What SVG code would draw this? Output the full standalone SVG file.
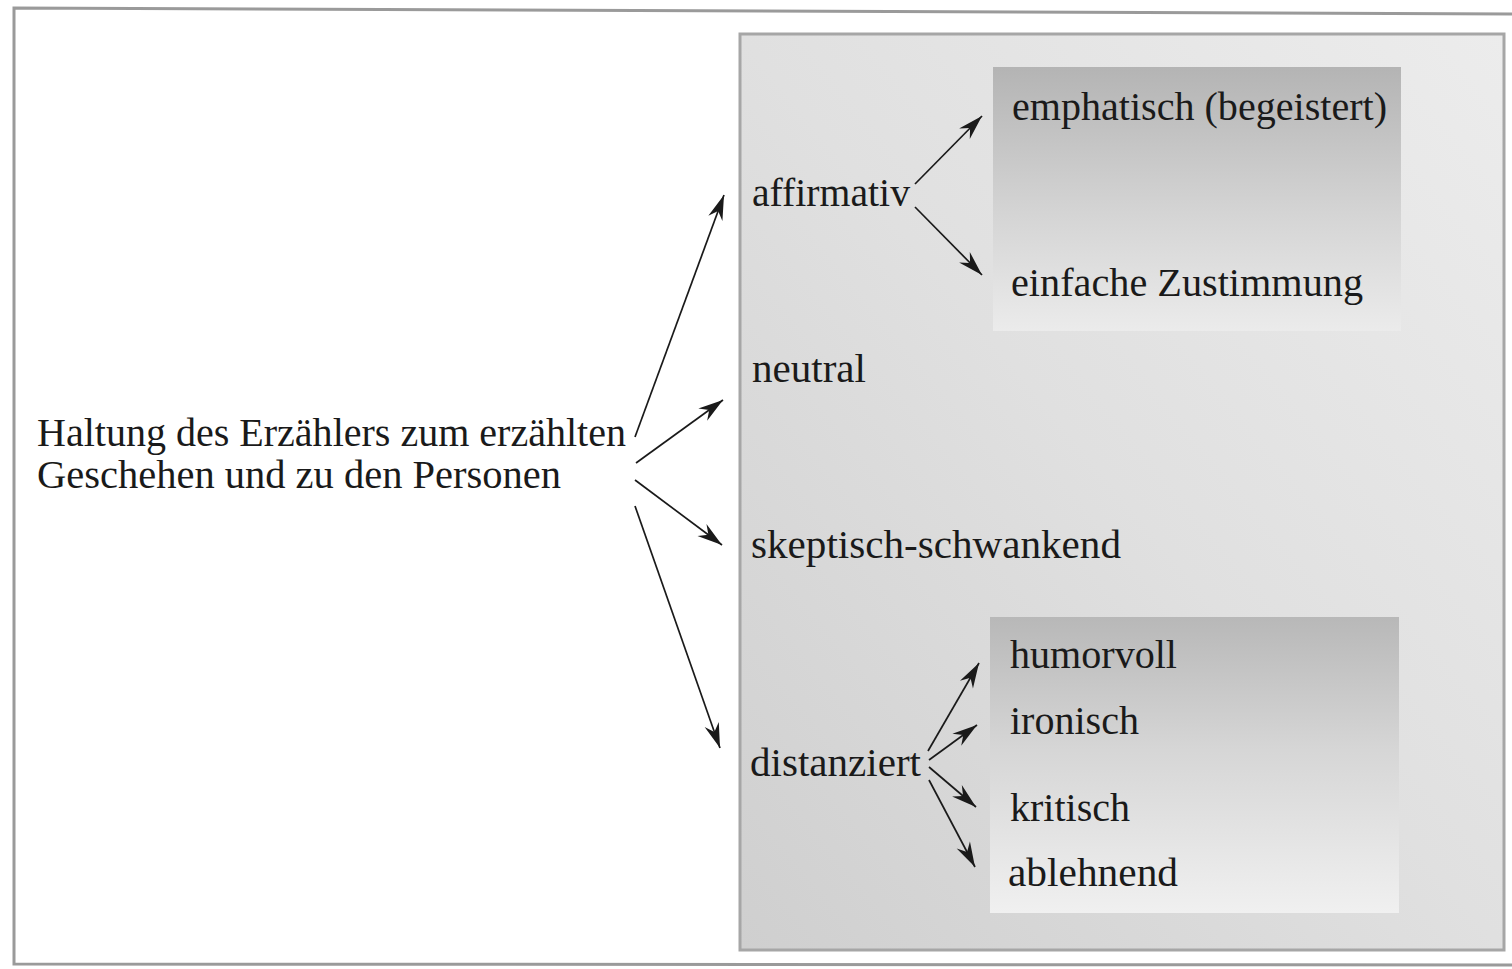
<svg xmlns="http://www.w3.org/2000/svg" width="1512" height="969" viewBox="0 0 1512 969">
<style>
.t{font-family:"Liberation Serif","Times New Roman",serif;font-size:40px;fill:#1a1a1a}
.c line{stroke:#1a1a1a;stroke-width:1.7;fill:none}
</style>
<defs>
<marker id="ah" viewBox="-28 -9 30 18" refX="0" refY="0" markerWidth="30" markerHeight="18" markerUnits="userSpaceOnUse" orient="auto">
<path d="M0,0 L-25,-7.5 L-17,0 L-25,7.5 Z" fill="#1a1a1a"/>
</marker>
<linearGradient id="panelG" x1="1" y1="0" x2="0" y2="1">
<stop offset="0" stop-color="#ececec"/>
<stop offset="0.5" stop-color="#e0e0e0"/>
<stop offset="1" stop-color="#cfcfcf"/>
</linearGradient>
<linearGradient id="boxA" x1="0" y1="0" x2="0" y2="1">
<stop offset="0" stop-color="#b4b4b4"/>
<stop offset="0.55" stop-color="#d4d4d4"/>
<stop offset="1" stop-color="#ebebeb"/>
</linearGradient>
<linearGradient id="boxB" x1="0" y1="0" x2="0" y2="1">
<stop offset="0" stop-color="#b8b8b8"/>
<stop offset="0.45" stop-color="#d6d6d6"/>
<stop offset="1" stop-color="#f0f0f0"/>
</linearGradient>
</defs>
<rect x="0" y="0" width="1512" height="969" fill="#ffffff"/>
<path d="M1512,14 L14,8 L14,964 L1512,965" fill="none" stroke="#9a9a9a" stroke-width="3"/>
<g id="panel">
<rect x="740" y="34" width="764" height="916" fill="url(#panelG)" stroke="#a6a6a6" stroke-width="3"/>
<rect x="993" y="67" width="408" height="264" fill="url(#boxA)"/>
<rect x="990" y="617" width="409" height="296" fill="url(#boxB)"/>
</g>
<g id="root"><text class="t" x="37" y="446" textLength="589" lengthAdjust="spacingAndGlyphs">Haltung des Erzählers zum erzählten</text>
<text class="t" x="37" y="488" textLength="524" lengthAdjust="spacingAndGlyphs">Geschehen und zu den Personen</text></g>
<g id="affirmativ"><text class="t" x="752" y="206" textLength="158" lengthAdjust="spacingAndGlyphs">affirmativ</text></g>
<g id="neutral"><text class="t" x="752" y="382" textLength="114" lengthAdjust="spacingAndGlyphs">neutral</text></g>
<g id="skeptisch"><text class="t" x="751" y="558" textLength="370" lengthAdjust="spacingAndGlyphs">skeptisch-schwankend</text></g>
<g id="distanziert"><text class="t" x="750" y="776" textLength="171" lengthAdjust="spacingAndGlyphs">distanziert</text></g>
<g id="emphatisch"><text class="t" x="1012" y="120" textLength="375" lengthAdjust="spacingAndGlyphs">emphatisch (begeistert)</text></g>
<g id="zustimmung"><text class="t" x="1011" y="296" textLength="352" lengthAdjust="spacingAndGlyphs">einfache Zustimmung</text></g>
<g id="humorvoll"><text class="t" x="1010" y="668" textLength="167" lengthAdjust="spacingAndGlyphs">humorvoll</text></g>
<g id="ironisch"><text class="t" x="1010" y="734" textLength="129" lengthAdjust="spacingAndGlyphs">ironisch</text></g>
<g id="kritisch"><text class="t" x="1010" y="821" textLength="120" lengthAdjust="spacingAndGlyphs">kritisch</text></g>
<g id="ablehnend"><text class="t" x="1008" y="886" textLength="170" lengthAdjust="spacingAndGlyphs">ablehnend</text></g>
<g class="c" id="connectors">
<line x1="635" y1="437" x2="724" y2="195" marker-end="url(#ah)"/>
<line x1="636" y1="463" x2="723" y2="400" marker-end="url(#ah)"/>
<line x1="635" y1="480" x2="722" y2="545" marker-end="url(#ah)"/>
<line x1="635" y1="506" x2="720" y2="748" marker-end="url(#ah)"/>
<line x1="915" y1="184" x2="982" y2="116" marker-end="url(#ah)"/>
<line x1="915" y1="207" x2="982" y2="275" marker-end="url(#ah)"/>
<line x1="928" y1="751" x2="979" y2="663" marker-end="url(#ah)"/>
<line x1="929" y1="760" x2="977" y2="725" marker-end="url(#ah)"/>
<line x1="929" y1="767" x2="976" y2="807" marker-end="url(#ah)"/>
<line x1="929" y1="780" x2="975" y2="867" marker-end="url(#ah)"/>
</g>
</svg>
